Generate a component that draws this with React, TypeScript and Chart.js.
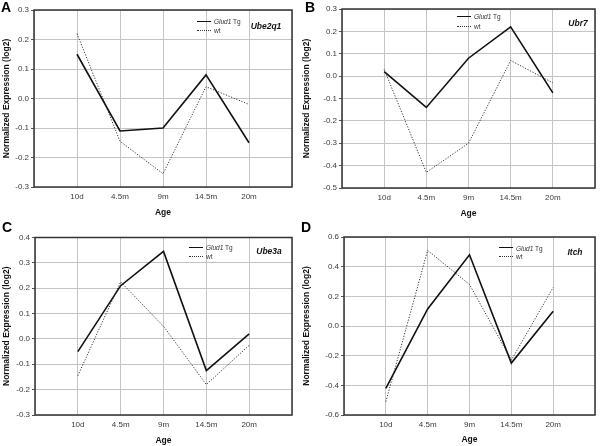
import React, { useEffect, useRef } from 'react';
import { Chart, registerables } from 'chart.js';

Chart.register(...registerables);

const FONT = '"Liberation Sans", Arial, Helvetica, sans-serif';
Chart.defaults.font.family = FONT;

// ---------- data ----------
const categories = ['10d', '4.5m', '9m', '14.5m', '20m'];
const seriesNames = ['Glud1 Tg', 'wt'];
const yTitle = 'Normalized Expression (log2)';
const xTitle = 'Age';

const ube2q1Tg = [0.15, -0.11, -0.1, 0.08, -0.15];
const ube2q1Wt = [0.22, -0.145, -0.255, 0.04, -0.02];
const ube2q1Axis = [-0.3, 0.3, 0.1];

const ubr7Tg = [0.02, -0.14, 0.08, 0.22, -0.075];
const ubr7Wt = [0.03, -0.43, -0.3, 0.07, -0.03];
const ubr7Axis = [-0.5, 0.3, 0.1];

const ube3aTg = [-0.05, 0.21, 0.345, -0.125, 0.02];
const ube3aWt = [-0.145, 0.225, 0.05, -0.18, -0.025];
const ube3aAxis = [-0.3, 0.4, 0.1];

const itchTg = [-0.42, 0.115, 0.48, -0.25, 0.1];
const itchWt = [-0.51, 0.51, 0.28, -0.23, 0.26];
const itchAxis = [-0.6, 0.6, 0.2];

// ---------- layout ----------
const W = 300;
const H = 223;

type PanelCfg = {
  letter: string;
  gene: string;
  tg: number[];
  wt: number[];
  axis: number[];
  ox: number;
  oy: number;
  left: number;
  right: number;
  top: number;
  bottom: number;
  padBottom: number;
  letterX: number;
  letterY: number;
  legX: number;
  legY1: number;
  legY2: number;
  geneX: number;
  geneY: number;
};

const panels: PanelCfg[] = [
  {
    letter: 'A', gene: 'Ube2q1', tg: ube2q1Tg, wt: ube2q1Wt, axis: ube2q1Axis,
    ox: 0, oy: 0, left: 34, right: 292, top: 10, bottom: 187, padBottom: 5,
    letterX: 1, letterY: -0.5, legX: 197, legY1: 21.5, legY2: 30, geneX: 266, geneY: 26.5,
  },
  {
    letter: 'B', gene: 'Ubr7', tg: ubr7Tg, wt: ubr7Wt, axis: ubr7Axis,
    ox: 300, oy: 0, left: 42, right: 298, top: 9, bottom: 188, padBottom: 4,
    letterX: 305, letterY: -0.5, legX: 457, legY1: 16.5, legY2: 26, geneX: 578, geneY: 23.5,
  },
  {
    letter: 'C', gene: 'Ube3a', tg: ube3aTg, wt: ube3aWt, axis: ube3aAxis,
    ox: 0, oy: 223, left: 35, right: 292, top: 14.5, bottom: 192, padBottom: 0,
    letterX: 2, letterY: 220, legX: 189, legY1: 247.5, legY2: 256, geneX: 269, geneY: 251,
  },
  {
    letter: 'D', gene: 'Itch', tg: itchTg, wt: itchWt, axis: itchAxis,
    ox: 300, oy: 223, left: 44, right: 298, top: 14, bottom: 192, padBottom: 1,
    letterX: 301, letterY: 220, legX: 499, legY1: 248, legY2: 256.5, geneX: 575, geneY: 252,
  },
];

const framePlugin = {
  id: 'frame',
  afterDatasetsDraw(chart: any) {
    const { ctx, chartArea } = chart;
    const { left, top, right, bottom } = chartArea;
    ctx.save();
    ctx.strokeStyle = '#333333';
    ctx.lineWidth = 1.5;
    ctx.strokeRect(left, top, right - left, bottom - top);
    ctx.restore();
  },
};

function Panel({ cfg }: { cfg: PanelCfg }) {
  const ref = useRef<HTMLCanvasElement>(null);
  useEffect(() => {
    if (!ref.current) return;
    const labels = ['', ...categories, ''];
    const pad = (a: number[]) => [null, ...a, null];
    const chart = new Chart(ref.current, {
      type: 'line',
      data: {
        labels,
        datasets: [
          {
            label: seriesNames[0],
            data: pad(cfg.tg),
            borderColor: '#111111',
            borderWidth: 1.6,
            pointRadius: 0,
            fill: false,
            tension: 0,
          },
          {
            label: seriesNames[1],
            data: pad(cfg.wt),
            borderColor: '#333333',
            borderWidth: 1,
            borderDash: [1.2, 1.6],
            pointRadius: 0,
            fill: false,
            tension: 0,
          },
        ],
      },
      options: {
        animation: false,
        responsive: false,
        maintainAspectRatio: false,
        layout: {
          padding: { left: 0, right: W - cfg.right, top: cfg.top, bottom: cfg.padBottom },
        },
        plugins: {
          legend: { display: false },
          tooltip: { enabled: false },
        },
        scales: {
          x: {
            type: 'category',
            offset: false,
            grid: { color: '#c4c4c4', lineWidth: 1, drawTicks: false },
            border: { display: false },
            ticks: {
              autoSkip: false,
              maxRotation: 0,
              minRotation: 0,
              padding: 5,
              color: '#3a3a3a',
              font: { size: 8, family: FONT },
            },
            title: {
              display: true,
              text: xTitle,
              color: '#111111',
              font: { size: 8.5, weight: 'bold', family: FONT },
              padding: 0,
            },
            afterFit: (s: any) => {
              s.height = H - cfg.padBottom - cfg.bottom;
            },
          },
          y: {
            type: 'linear',
            min: cfg.axis[0],
            max: cfg.axis[1],
            grid: { color: '#c4c4c4', lineWidth: 1, tickLength: 3, tickColor: '#555555' },
            border: { display: false },
            ticks: {
              stepSize: cfg.axis[2],
              padding: 2,
              color: '#3a3a3a',
              font: { size: 8, family: FONT },
              callback: (v: any) => {
                const n = Number(v);
                return Math.abs(n) < 1e-9 ? '0.0' : n.toFixed(1);
              },
            },
            title: {
              display: true,
              text: yTitle,
              color: '#111111',
              font: { size: 8.5, weight: 'bold', family: FONT },
              padding: { top: 2, bottom: 0 },
            },
            afterFit: (s: any) => {
              s.width = cfg.left;
            },
          },
        },
      } as any,
      plugins: [framePlugin],
    });
    return () => chart.destroy();
  }, [cfg]);
  return (
    <canvas
      ref={ref}
      width={W}
      height={H}
      style={{ position: 'absolute', left: cfg.ox, top: cfg.oy, width: W, height: H, display: 'block' }}
    />
  );
}

function Txt({ x, cy, size, children, style, center }: any) {
  return (
    <div
      style={{
        position: 'absolute',
        left: x,
        top: cy - size,
        height: size * 2,
        lineHeight: `${size * 2}px`,
        fontSize: size,
        fontFamily: FONT,
        whiteSpace: 'nowrap',
        transform: center ? 'translateX(-50%)' : undefined,
        ...style,
      }}
    >
      {children}
    </div>
  );
}

function Overlay({ cfg }: { cfg: PanelCfg }) {
  const lineW = 14;
  return (
    <>
      <div
        style={{
          position: 'absolute',
          left: cfg.letterX,
          top: cfg.letterY,
          fontSize: 14,
          lineHeight: '14px',
          fontWeight: 'bold',
          fontFamily: FONT,
          color: '#000',
        }}
      >
        {cfg.letter}
      </div>
      <div
        style={{
          position: 'absolute',
          left: cfg.legX,
          top: cfg.legY1 - 0.75,
          width: lineW,
          height: 0,
          borderTop: '1.5px solid #111',
        }}
      />
      <div
        style={{
          position: 'absolute',
          left: cfg.legX,
          top: cfg.legY2 - 0.5,
          width: lineW,
          height: 0,
          borderTop: '1px dotted #333',
        }}
      />
      <Txt x={cfg.legX + lineW + 3} cy={cfg.legY1} size={6.5} style={{ color: '#333' }}>
        <i>Glud1</i> Tg
      </Txt>
      <Txt x={cfg.legX + lineW + 3} cy={cfg.legY2} size={6.5} style={{ color: '#333' }}>
        {seriesNames[1]}
      </Txt>
      <Txt
        x={cfg.geneX}
        cy={cfg.geneY}
        size={8.5}
        center
        style={{ fontWeight: 'bold', fontStyle: 'italic', color: '#111' }}
      >
        {cfg.gene}
      </Txt>
    </>
  );
}

export default function App() {
  return (
    <div
      style={{
        position: 'absolute',
        left: 0,
        top: 0,
        width: 600,
        height: 446,
        background: '#ffffff',
        overflow: 'hidden',
      }}
    >
      {panels.map((p) => (
        <Panel key={p.letter} cfg={p} />
      ))}
      {panels.map((p) => (
        <Overlay key={'o' + p.letter} cfg={p} />
      ))}
    </div>
  );
}
